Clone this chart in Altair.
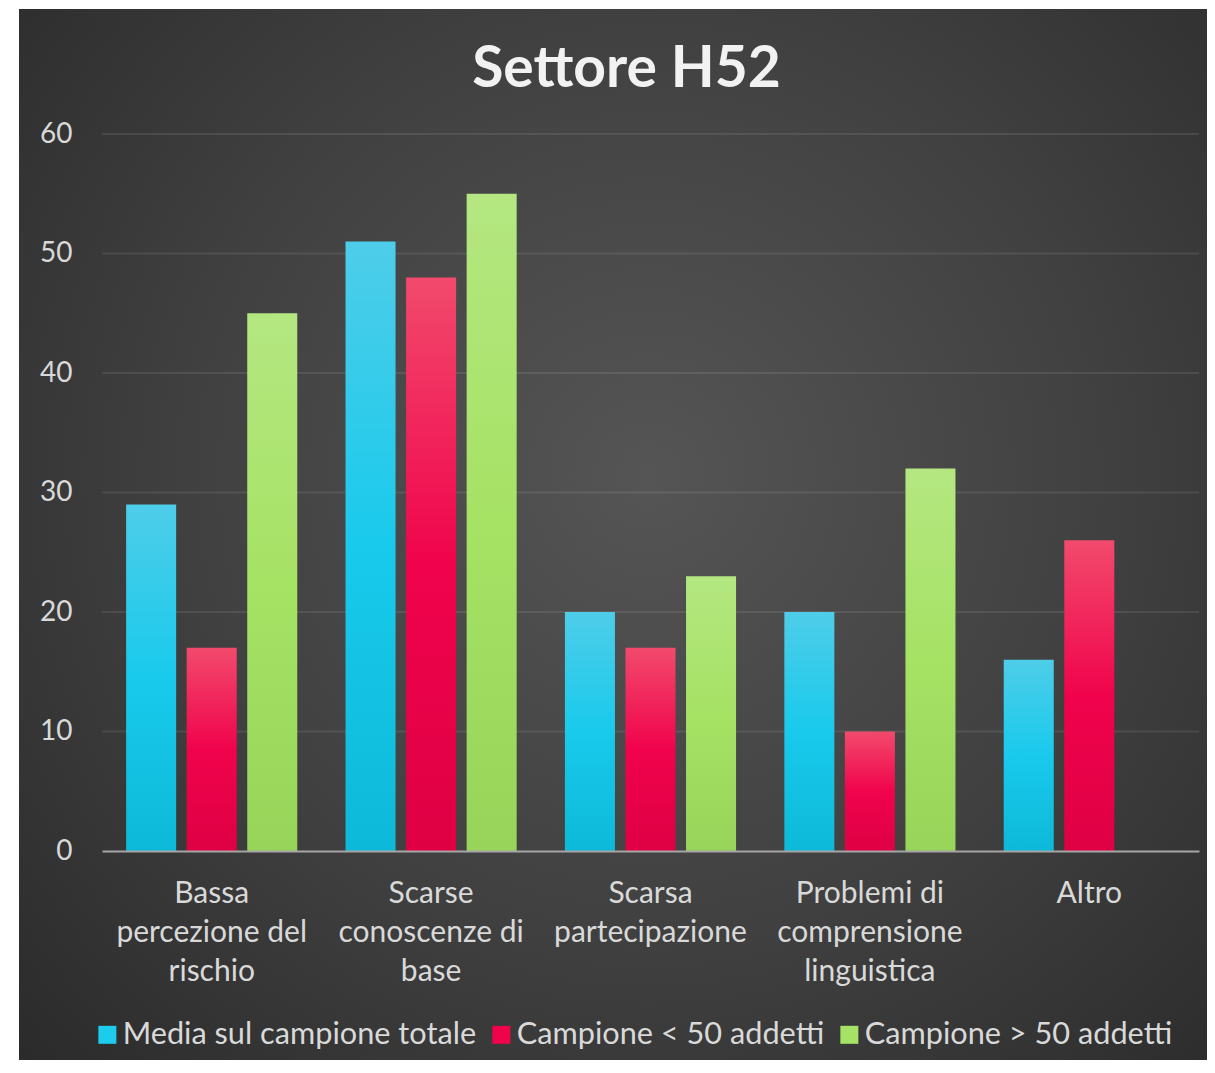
import altair as alt
import pandas as pd

# ---------------- data ----------------
categories = [
    "Bassa\npercezione del\nrischio",
    "Scarse\nconoscenze di\nbase",
    "Scarsa\npartecipazione",
    "Problemi di\ncomprensione\nlinguistica",
    "Altro",
]
series = ["Media sul campione totale", "Campione < 50 addetti", "Campione > 50 addetti"]
media_totale = [29, 51, 20, 20, 16]
campione_meno50 = [17, 48, 17, 10, 26]
campione_piu50 = [45, 55, 23, 32, 0]
y_ticks = [0, 10, 20, 30, 40, 50, 60]
grid_values = [10, 20, 30, 40, 50, 60]

legend_colors = ["#1dcbec", "#ef044c", "#a6e266"]
bar_stops = [
    ["#4ecde9", "#19caec", "#0db9d8"],
    ["#f24a6c", "#f0034c", "#df0044"],
    ["#b4e781", "#a6e264", "#98d459"],
]

values_by_series = [media_totale, campione_meno50, campione_piu50]
rows = []
for s, vals in zip(series, values_by_series):
    for c, v in zip(categories, vals):
        rows.append({"Category": c, "Series": s, "Value": v})
df = pd.DataFrame(rows)
grid_df = pd.DataFrame({"Value": grid_values})

FONT = "Lato"
LABEL_COLOR = "#d9d9d9"
W, H = 1097, 717

y_enc = alt.Y(
    "Value:Q",
    scale=alt.Scale(domain=[0, 60], nice=False, zero=True),
    axis=alt.Axis(
        values=y_ticks, title=None, grid=False, domain=False, ticks=False,
        labelFont=FONT, labelFontSize=28, labelColor=LABEL_COLOR, labelPadding=30,
        zindex=1,
    ),
)
x_enc = alt.X(
    "Category:N",
    sort=categories,
    scale=alt.Scale(domain=categories, paddingInner=0.22, paddingOuter=0.11),
    axis=alt.Axis(
        title=None, labelAngle=0, ticks=False, grid=False,
        domainColor="#a6a6a6", domainWidth=2,
        labelFont=FONT, labelFontSize=30, labelColor=LABEL_COLOR,
        labelLineHeight=39, labelPadding=27, labelLimit=0,
        labelExpr="split(datum.label, '\\n')",
        zindex=1,
    ),
)
xoff_enc = alt.XOffset(
    "Series:N", sort=series,
    scale=alt.Scale(domain=series, paddingInner=0.174, paddingOuter=0),
)

# background panel (decoration)
bg_gradient = alt.Gradient(
    gradient="radial",
    stops=[
        alt.GradientStop(color="#555555", offset=0),
        alt.GradientStop(color="#404040", offset=0.5),
        alt.GradientStop(color="#272727", offset=1),
    ],
    x1=0.53, y1=0.45, r1=0, x2=0.53, y2=0.45, r2=0.78,
)
background = alt.Chart(pd.DataFrame({"k": [0]})).mark_rect(color=bg_gradient).encode(
    x=alt.value(-83), x2=alt.value(1105), y=alt.value(-125), y2=alt.value(926)
)

grid = alt.Chart(grid_df).mark_rule(color="#ffffff", opacity=0.09, strokeWidth=2).encode(y=y_enc)

layers = [background, grid]
for s, stops in zip(series, bar_stops):
    grad = alt.Gradient(
        gradient="linear",
        stops=[
            alt.GradientStop(color=stops[0], offset=0),
            alt.GradientStop(color=stops[1], offset=0.5),
            alt.GradientStop(color=stops[2], offset=1),
        ],
        x1=0, y1=0, x2=0, y2=1,
    )
    layers.append(
        alt.Chart(df)
        .transform_filter(alt.datum.Series == s)
        .mark_bar(color=grad)
        .encode(x=x_enc, xOffset=xoff_enc, y=y_enc)
    )

legend_layer = alt.Chart(df).mark_square(opacity=0).encode(
    x=x_enc, xOffset=xoff_enc, y=y_enc,
    color=alt.Color(
        "Series:N", sort=series,
        scale=alt.Scale(domain=series, range=legend_colors),
        legend=alt.Legend(
            orient="none", legendX=-10, legendY=885, direction="horizontal",
            title=None, labelFont=FONT, labelFontSize=30.7, labelColor=LABEL_COLOR,
            symbolType="square", symbolSize=324, symbolStrokeWidth=0,
            symbolOpacity=1, columnPadding=9, labelOffset=0, labelLimit=0,
            zindex=1,
        ),
    ),
)
layers.append(legend_layer)

chart = (
    alt.layer(*layers)
    .properties(
        width=W, height=H,
        title=alt.TitleParams(
            "Settore H52", font=FONT, fontSize=57, fontWeight="bold",
            color="#f2f2f2", anchor="middle", offset=-90, dx=-24, zindex=1,
        ),
        autosize=alt.AutoSizeParams(type="none"),
        padding={"left": 94, "top": 126, "right": 8, "bottom": 209},
    )
    .configure_view(stroke=None)
)

chart.save("out.html", embed_options={"renderer": "svg", "actions": False})
